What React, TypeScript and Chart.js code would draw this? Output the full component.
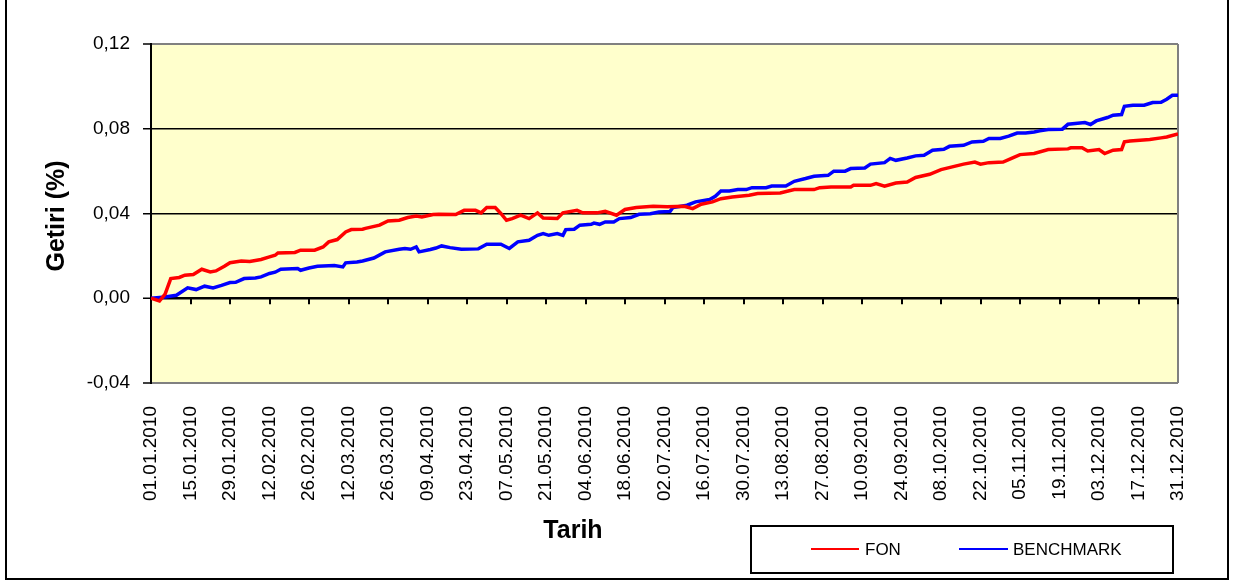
import React, { useEffect, useRef } from "react";
import { Chart, registerables } from "chart.js";

Chart.register(...registerables);

const dateLabels = [
  "01.01.2010", "15.01.2010", "29.01.2010", "12.02.2010", "26.02.2010", "12.03.2010",
  "26.03.2010", "09.04.2010", "23.04.2010", "07.05.2010", "21.05.2010", "04.06.2010",
  "18.06.2010", "02.07.2010", "16.07.2010", "30.07.2010", "13.08.2010", "27.08.2010",
  "10.09.2010", "24.09.2010", "08.10.2010", "22.10.2010", "05.11.2010", "19.11.2010",
  "03.12.2010", "17.12.2010", "31.12.2010",
];
const tickStepDays = 14;
const yTickValues = [-0.04, 0, 0.04, 0.08, 0.12];

const fonDays = [
  0, 3, 5, 7, 10, 12, 15, 18, 21, 23, 26, 28, 32, 35, 39, 42, 44, 45, 51, 53, 58, 61, 63, 66, 69,
  71, 75, 76, 81, 84, 88, 91, 94, 96, 100, 102, 108, 111, 115, 117, 119, 122, 124, 126, 128, 131,
  134, 137, 139, 144, 146, 151, 153, 158, 161, 165, 168, 172, 178, 183, 189, 192, 195, 199, 202,
  206, 212, 215, 223, 228, 235, 237, 241, 248, 249, 255, 257, 260, 264, 268, 271, 276, 280, 284,
  288, 292, 294, 297, 302, 305, 308, 313, 318, 325, 326, 330, 332, 336, 338, 341, 344, 345, 347,
  354, 358, 360, 364,
];
const fonValues = [
  0, -0.0013, 0.002, 0.0093, 0.0098, 0.0109, 0.0112, 0.0137, 0.0124, 0.0129, 0.0151, 0.0168,
  0.0176, 0.0174, 0.0183, 0.0195, 0.0203, 0.0214, 0.0216, 0.0227, 0.0227, 0.0242, 0.0266, 0.0277,
  0.0313, 0.0324, 0.0326, 0.033, 0.0345, 0.0365, 0.0368, 0.0381, 0.0388, 0.0384, 0.0395, 0.0397,
  0.0395, 0.0415, 0.0415, 0.0403, 0.0428, 0.0428, 0.04, 0.0368, 0.0376, 0.0392, 0.0376, 0.0403,
  0.0379, 0.0376, 0.0403, 0.0415, 0.0403, 0.0403, 0.041, 0.0392, 0.0419, 0.0428, 0.0434, 0.0432,
  0.0434, 0.0423, 0.0444, 0.0455, 0.047, 0.0478, 0.0486, 0.0494, 0.0497, 0.0513, 0.0513, 0.0522,
  0.0525, 0.0525, 0.0533, 0.0533, 0.0541, 0.0529, 0.0544, 0.0549, 0.057, 0.0585, 0.0607, 0.062,
  0.0633, 0.0643, 0.0633, 0.064, 0.0643, 0.066, 0.0678, 0.0683, 0.0702, 0.0705, 0.071, 0.071,
  0.0695, 0.0702, 0.0683, 0.0699, 0.0702, 0.0738, 0.0742, 0.0749, 0.0757, 0.0761, 0.0776,
];

const benchDays = [
  0, 5, 9, 13, 16, 19, 22, 25, 28, 30, 33, 37, 39, 42, 44, 46, 52, 53, 56, 59, 65, 68, 69, 73, 75,
  79, 83, 88, 90, 92, 94, 95, 99, 101, 103, 106, 110, 116, 119, 124, 127, 130, 134, 137, 139, 141,
  144, 146, 147, 150, 152, 156, 157, 159, 161, 164, 166, 170, 173, 177, 180, 184, 185, 190, 193,
  198, 200, 202, 205, 208, 211, 213, 218, 220, 225, 228, 232, 235, 240, 242, 246, 248, 253, 255,
  260, 262, 264, 268, 271, 274, 277, 281, 283, 288, 291, 295, 297, 301, 304, 307, 310, 313, 315,
  318, 323, 325, 331, 333, 335, 339, 341, 344, 345, 348, 352, 355, 358, 360, 362, 364,
];
const benchValues = [
  0, 0.0006, 0.0014, 0.0049, 0.0041, 0.0057, 0.0049, 0.0061, 0.0074, 0.0075, 0.0093, 0.0096,
  0.0101, 0.0117, 0.0123, 0.0137, 0.014, 0.0132, 0.0143, 0.0151, 0.0154, 0.0148, 0.0167, 0.0171,
  0.0176, 0.019, 0.0219, 0.0231, 0.0235, 0.0231, 0.0242, 0.0219, 0.023, 0.0237, 0.0247, 0.0239,
  0.0231, 0.0233, 0.0255, 0.0255, 0.0235, 0.0266, 0.0274, 0.0297, 0.0305, 0.0297, 0.0305, 0.0297,
  0.0324, 0.0326, 0.0345, 0.0349, 0.0355, 0.0349, 0.036, 0.036, 0.0376, 0.0381, 0.0396, 0.0399,
  0.0407, 0.041, 0.0428, 0.0439, 0.0455, 0.0466, 0.0481, 0.0506, 0.0506, 0.0513, 0.0513, 0.0522,
  0.0522, 0.053, 0.053, 0.0552, 0.0565, 0.0576, 0.058, 0.06, 0.06, 0.0612, 0.0615, 0.0633, 0.064,
  0.066, 0.0651, 0.0662, 0.0672, 0.0675, 0.0699, 0.0703, 0.0717, 0.0722, 0.0738, 0.0741, 0.0754,
  0.0754, 0.0765, 0.078, 0.078, 0.0785, 0.079, 0.0796, 0.0798, 0.0821, 0.0829, 0.082, 0.0837,
  0.0853, 0.0864, 0.0867, 0.0906, 0.0911, 0.0911, 0.0924, 0.0925, 0.0939, 0.0958, 0.0958,
];

const seriesNames = ["FON", "BENCHMARK"];
const seriesColors = ["#FF0000", "#0000FF"];
const yTitle = "Getiri (%)";
const xTitle = "Tarih";

const FONT = "'Liberation Sans', Arial, Helvetica, sans-serif";

const decorPlugin = {
  id: "decor",
  beforeDraw(chart: any) {
    const { ctx, chartArea: a } = chart;
    ctx.save();
    ctx.fillStyle = "#FFFFFF";
    ctx.fillRect(0, 0, chart.width, chart.height);
    ctx.fillStyle = "#FFFFCC";
    ctx.fillRect(a.left, a.top, a.right - a.left, a.bottom - a.top);
    ctx.restore();
  },
  beforeDatasetsDraw(chart: any) {
    const { ctx, chartArea: a } = chart;
    const xs = chart.scales.x;
    const ys = chart.scales.y;
    ctx.save();
    ctx.strokeStyle = "#808080";
    ctx.lineWidth = 2;
    ctx.beginPath();
    ctx.moveTo(a.right, a.top);
    ctx.lineTo(a.right, a.bottom);
    ctx.stroke();
    const y0 = ys.getPixelForValue(0);
    ctx.strokeStyle = "#000000";
    ctx.lineWidth = 2;
    xs.ticks.forEach((t: any) => {
      const px = Math.round(xs.getPixelForValue(t.value));
      ctx.beginPath();
      ctx.moveTo(px, y0);
      ctx.lineTo(px, y0 + 6);
      ctx.stroke();
    });
    ctx.restore();
  },
  afterDraw(chart: any) {
    const { ctx } = chart;
    ctx.save();
    ctx.fillStyle = "#000000";
    ctx.font = `bold 25px ${FONT}`;
    ctx.textAlign = "center";
    ctx.textBaseline = "middle";
    ctx.save();
    ctx.translate(57, 216);
    ctx.rotate(-Math.PI / 2);
    ctx.fillText(yTitle, 0, 0);
    ctx.restore();
    ctx.fillText(xTitle, 573, 531);
    ctx.strokeStyle = "#000000";
    ctx.lineWidth = 2;
    ctx.strokeRect(751, 526, 422, 47);
    const items = [
      { x0: 811, x1: 859, tx: 865 },
      { x0: 959, x1: 1008, tx: 1013 },
    ];
    ctx.font = `17px ${FONT}`;
    ctx.textAlign = "left";
    ctx.textBaseline = "middle";
    chart.data.datasets.forEach((ds: any, i: number) => {
      const it = items[i];
      ctx.strokeStyle = ds.borderColor;
      ctx.lineWidth = 2;
      ctx.beginPath();
      ctx.moveTo(it.x0, 549);
      ctx.lineTo(it.x1, 549);
      ctx.stroke();
      ctx.fillStyle = "#000000";
      ctx.fillText(ds.label, it.tx, 550);
    });
    ctx.strokeStyle = "#000000";
    ctx.lineWidth = 2;
    ctx.strokeRect(6, -10, 1222, 589);
    ctx.restore();
  },
};

export default function App() {
  const canvasRef = useRef<HTMLCanvasElement | null>(null);

  useEffect(() => {
    const canvas = canvasRef.current;
    if (!canvas) return;
    const chart = new Chart(canvas, {
      type: "line",
      data: {
        datasets: [
          {
            label: seriesNames[0],
            data: fonDays.map((d, i) => ({ x: d, y: fonValues[i] })),
            borderColor: seriesColors[0],
            backgroundColor: seriesColors[0],
            borderWidth: 3.5,
            pointRadius: 0,
            tension: 0,
          },
          {
            label: seriesNames[1],
            data: benchDays.map((d, i) => ({ x: d, y: benchValues[i] })),
            borderColor: seriesColors[1],
            backgroundColor: seriesColors[1],
            borderWidth: 3.5,
            pointRadius: 0,
            tension: 0,
          },
        ],
      },
      options: {
        responsive: false,
        animation: false,
        devicePixelRatio: 1,
        layout: { padding: { top: 44, right: 58, left: 0, bottom: 0 } },
        plugins: {
          legend: { display: false },
          tooltip: { enabled: false },
          title: { display: false },
        },
        scales: {
          x: {
            type: "linear",
            min: 0,
            max: (dateLabels.length - 1) * tickStepDays,
            position: "bottom",
            afterBuildTicks: (scale: any) => {
              scale.ticks = dateLabels.map((_, i) => ({ value: i * tickStepDays }));
            },
            afterFit: (scale: any) => {
              scale.height = 199;
            },
            grid: { display: false, drawTicks: false },
            border: { display: false },
            ticks: {
              autoSkip: false,
              maxRotation: 90,
              minRotation: 90,
              padding: 23,
              color: "#000000",
              font: { family: FONT, size: 19 },
              callback: (v: any) => dateLabels[Math.round(Number(v) / tickStepDays)] ?? "",
            },
          },
          y: {
            type: "linear",
            min: -0.04,
            max: 0.12,
            afterBuildTicks: (scale: any) => {
              scale.ticks = yTickValues.map((v) => ({ value: v }));
            },
            afterFit: (scale: any) => {
              scale.width = 151;
            },
            grid: {
              drawTicks: true,
              tickLength: 8,
              tickColor: "#000000",
              tickWidth: 1.5,
              color: (c: any) => {
                const v = c.tick ? c.tick.value : 0;
                if (v > 0.119 || v < -0.039) return "#808080";
                return "#000000";
              },
              lineWidth: (c: any) => {
                const v = c.tick ? c.tick.value : 0;
                if (Math.abs(v) < 1e-9) return 2.5;
                if (v > 0.119 || v < -0.039) return 2;
                return 1.5;
              },
            },
            border: { display: true, color: "#000000", width: 2 },
            ticks: {
              padding: 13,
              color: "#000000",
              font: { family: FONT, size: 19 },
              callback: (v: any) => Number(v).toFixed(2).replace(".", ","),
            },
          },
        },
      },
      plugins: [decorPlugin],
    } as any);
    return () => chart.destroy();
  }, []);

  return (
    <div style={{ position: "absolute", left: 0, top: 0, width: 1236, height: 582, background: "#fff" }}>
      <canvas ref={canvasRef} width={1236} height={582} style={{ display: "block" }} />
    </div>
  );
}
